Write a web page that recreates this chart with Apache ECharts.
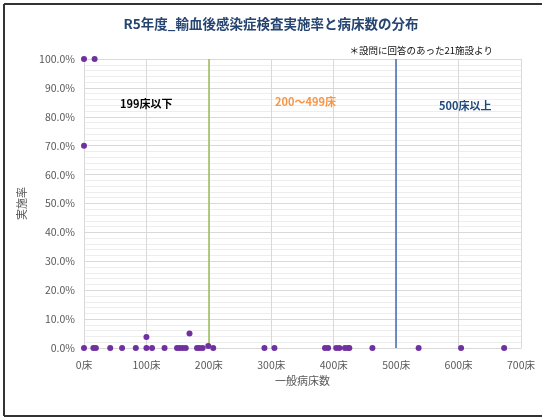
<!DOCTYPE html>
<html><head><meta charset="utf-8">
<script src="https://cdn.jsdelivr.net/npm/echarts@6/dist/echarts.min.js"></script>
<style>html,body{margin:0;padding:0;background:#fff;}#c{width:542px;height:419px;}</style>
</head><body><div id="c"></div>
<script>
const titleText = 'R5年度_輸血後感染症検査実施率と病床数の分布';
const noteText = '＊設問に回答のあった21施設より';
const xName = '一般病床数';
const yName = '実施率';
const bedCounts = [0,15,19,42,61,83,100,109,129,149,153,158,163,181,185,190,207,289,305,386,391,404,409,418,423,425,462,536,604,673,100,169,199,0,17,0];
const rates     = [0,0,0,0,0,0,0,0,0,0,0,0,0,0,0,0,0,0,0,0,0,0,0,0,0,0,0,0,0,0,3.8,5.0,0.7,100,100,70];
const dividers = [200, 500];
const dividerColors = ['#9BBB59', '#3E6DB5'];
const zoneLabels = ['199床以下', '200～499床', '500床以上'];

const font = '"Noto Sans CJK JP", "Noto Sans", sans-serif';
const points = bedCounts.map((b, i) => [b, rates[i]]);
const chart = echarts.init(document.getElementById('c'), null, {renderer: 'canvas'});
chart.setOption({
  animation: false,
  backgroundColor: '#fff',
  textStyle: {fontFamily: font},
  title: [
    {text: titleText, left: 'center', top: 12, textStyle: {fontFamily: font, fontSize: 13.5, fontWeight: 'bold', color: '#264470'}},
    {text: noteText, right: 44, top: 41, textStyle: {fontFamily: font, fontSize: 9.5, fontWeight: 'normal', color: '#111'}}
  ],
  grid: {left: 84, right: 21, top: 59, bottom: 71},
  xAxis: {
    type: 'value', min: 0, max: 700, interval: 100,
    name: xName, nameLocation: 'middle', nameGap: 27,
    nameTextStyle: {fontFamily: font, fontSize: 11, color: '#595959'},
    axisLine: {show: true, lineStyle: {color: '#D9D9D9'}},
    axisTick: {show: false},
    axisLabel: {fontFamily: font, fontSize: 10.5, color: '#595959', margin: 12, formatter: v => v + '床'},
    splitLine: {show: true, lineStyle: {color: '#D9D9D9', width: 1}}
  },
  yAxis: {
    type: 'value', min: 0, max: 100, interval: 10,
    name: yName, nameLocation: 'middle', nameGap: 57, nameRotate: 90,
    nameTextStyle: {fontFamily: font, fontSize: 11, color: '#595959'},
    axisLine: {show: true, lineStyle: {color: '#D9D9D9'}},
    axisTick: {show: false},
    axisLabel: {fontFamily: font, fontSize: 10.5, color: '#595959', margin: 9, formatter: v => v.toFixed(1) + '%'},
    splitLine: {show: true, lineStyle: {color: '#D9D9D9', width: 1}},
    minorTick: {show: false, splitNumber: 5},
    minorSplitLine: {show: true, lineStyle: {color: '#EDEDED', width: 1}}
  },
  series: [{
    type: 'scatter',
    data: points,
    symbolSize: 6,
    itemStyle: {color: '#7030A0', opacity: 1},
    z: 5,
    markLine: {
      silent: true, symbol: ['none', 'none'], label: {show: false},
      data: dividers.map((d, i) => ({xAxis: d, lineStyle: {color: dividerColors[i], width: 1.5, type: 'solid'}}))
    }
  }],
  graphic: [
    {type: 'text', left: 120, top: 98, z: 100, style: {text: zoneLabels[0], font: 'bold 11px ' + font, fill: '#000'}},
    {type: 'text', left: 275, top: 96, z: 100, style: {text: zoneLabels[1], font: 'bold 11px ' + font, fill: '#F79646'}},
    {type: 'text', left: 439, top: 100, z: 100, style: {text: zoneLabels[2], font: 'bold 11px ' + font, fill: '#1F497D'}},
    {type: 'line', z: 100, shape: {x1: 4, y1: 4, x2: 542, y2: 4}, style: {stroke: '#333', lineWidth: 2}},
    {type: 'line', z: 100, shape: {x1: 4, y1: 4, x2: 4, y2: 416}, style: {stroke: '#333', lineWidth: 2}},
    {type: 'line', z: 100, shape: {x1: 4, y1: 416, x2: 542, y2: 416}, style: {stroke: '#333', lineWidth: 2}}
  ]
});
</script></body></html>
